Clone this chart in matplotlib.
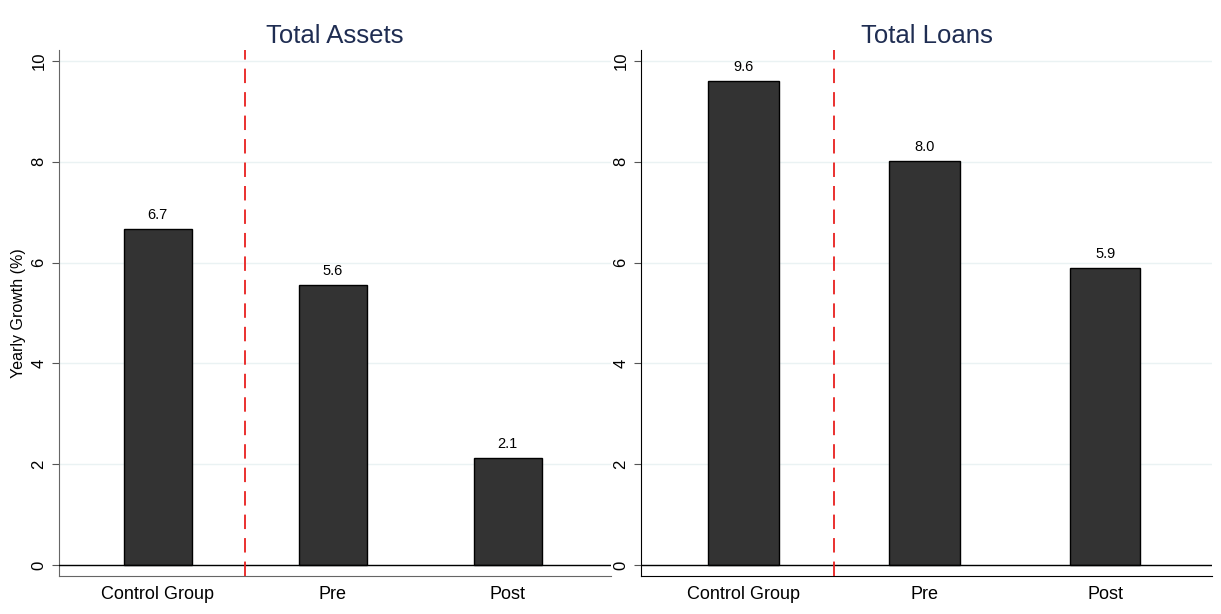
import matplotlib.pyplot as plt

# data
groups = ["Control Group", "Pre", "Post"]
assets = [6.67, 5.56, 2.13]
loans = [9.61, 8.01, 5.90]
titles = ["Total Assets", "Total Loans"]

plt.rcParams["font.family"] = ["Liberation Sans", "DejaVu Sans"]

fig = plt.figure(figsize=(12.21, 6.14), dpi=100)
ax1 = fig.add_axes([0.0483, 0.0619, 0.4521, 0.8567])
ax2 = fig.add_axes([0.525, 0.0619, 0.4676, 0.8567])

for ax, vals, title in zip([ax1, ax2], [assets, loans], titles):
    x = range(len(groups))
    ax.bar(x, vals, width=0.39, color="#333333", edgecolor="black", linewidth=1, zorder=3)
    for xi, v in zip(x, vals):
        ax.text(xi, v + 0.14, f"{v:.1f}", ha="center", va="bottom", fontsize=10.5)
    ax.axhline(0, color="black", linewidth=1, zorder=4)
    ax.axvline(0.5, color="#e8201f", linestyle=(0, (8, 5)), linewidth=1.3, zorder=4)
    ax.set_xlim(-0.565, 2.59)
    ax.set_ylim(-0.22, 10.22)
    ax.set_yticks([0, 2, 4, 6, 8, 10])
    ax.set_yticklabels(["0", "2", "4", "6", "8", "10"], rotation=90, va="center")
    ax.set_xticks(list(x))
    ax.set_xticklabels(groups, fontsize=13)
    ax.tick_params(axis="x", length=0, pad=7)
    ax.tick_params(axis="y", labelsize=12, length=5, color="#555555", pad=4)
    ax.grid(axis="y", color="#eaf2f3", linewidth=1, zorder=0)
    ax.spines["top"].set_visible(False)
    ax.spines["right"].set_visible(False)
    ax.set_title(title, fontsize=18.5, color="#1f2d52", pad=5)

ax1.spines["left"].set_color("#666666")
ax1.spines["bottom"].set_color("#666666")
ax1.set_ylabel("Yearly Growth (%)", fontsize=11.5, labelpad=4)

fig.savefig("out.png", dpi=100, facecolor="white")
